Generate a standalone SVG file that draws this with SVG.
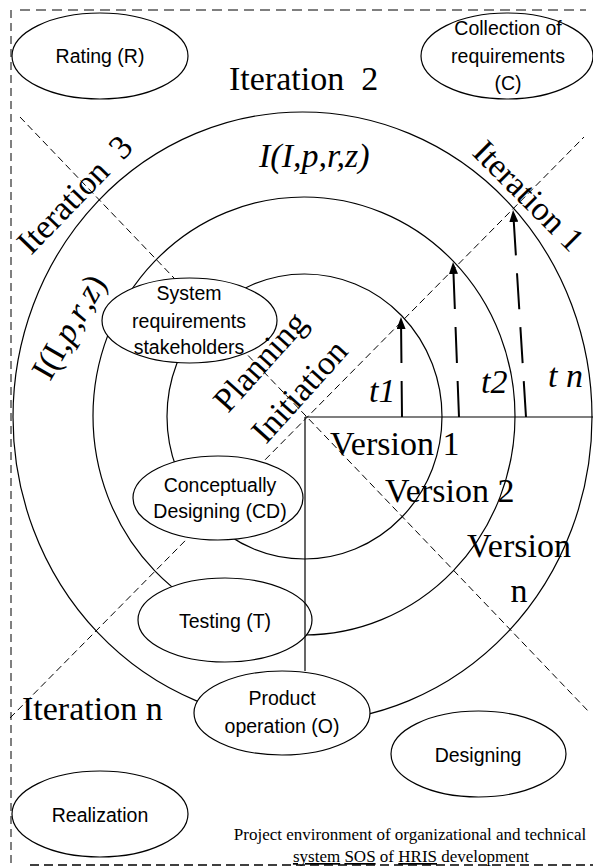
<svg xmlns="http://www.w3.org/2000/svg" width="593" height="868" viewBox="0 0 593 868">
<style>
.c{fill:none;stroke:#000;stroke-width:1.2}
.d{fill:none;stroke:#000;stroke-width:1;stroke-dasharray:7 4}
.ln{fill:none;stroke:#000;stroke-width:1.2}
.ar{fill:none;stroke:#000;stroke-width:2;stroke-dasharray:36 18;marker-end:url(#ah)}
.node ellipse{fill:#fff;stroke:#000;stroke-width:1.2}
.nt{font-family:"Liberation Sans",Arial,sans-serif;font-size:19.5px;text-anchor:middle;fill:#000}
.s{font-family:"Liberation Serif","Times New Roman",serif;font-size:34px;fill:#000}
.i{font-style:italic}
.cap{font-family:"Liberation Serif","Times New Roman",serif;font-size:17px;text-anchor:middle;fill:#000}
</style>
<defs>
<marker id="ah" markerWidth="12" markerHeight="9" refX="0" refY="4.5" orient="auto" markerUnits="userSpaceOnUse">
<path d="M0,0 L12,4.5 L0,9 z" fill="#000"/>
</marker>
</defs>

<!-- frame -->
<g id="frame">
<line x1="20" y1="10" x2="586" y2="10" stroke="#7f7f7f" stroke-width="2" stroke-dasharray="10 6"/>
<line x1="11" y1="10" x2="11" y2="868" stroke="#000" stroke-width="1" stroke-dasharray="8 5"/>
<line x1="30" y1="865" x2="593" y2="865" stroke="#000" stroke-width="1.5" stroke-dasharray="9 5"/>
</g>

<!-- circles -->
<g id="circles">
<ellipse class="c" cx="302.5" cy="417" rx="289.5" ry="305"/>
<ellipse class="c" cx="304" cy="416" rx="211" ry="219"/>
<ellipse class="c" cx="304.5" cy="416.5" rx="137.5" ry="142.5"/>
</g>

<!-- connectors -->
<g id="connectors">
<line class="d" x1="20" y1="117" x2="590" y2="713"/>
<line class="d" x1="10" y1="718" x2="584" y2="137"/>
<line class="ln" x1="305" y1="417" x2="593" y2="417"/>
<line class="ar" x1="402" y1="417" x2="401.1" y2="329"/>
<line class="ar" x1="459" y1="417" x2="453.5" y2="274"/>
<line class="ar" x1="526" y1="417" x2="513.8" y2="222"/>
</g>

<!-- nodes -->
<g id="rating" class="node">
<ellipse cx="100" cy="56" rx="88" ry="43"/>
<text class="nt" x="100" y="63">Rating (R)</text>
</g>
<g id="collection" class="node">
<ellipse cx="507" cy="56" rx="86" ry="43"/>
<text class="nt" x="508" y="35">Collection of</text>
<text class="nt" x="508" y="63">requirements</text>
<text class="nt" x="508" y="90">(C)</text>
</g>
<g id="system" class="node">
<ellipse cx="189.5" cy="320.5" rx="87.5" ry="42.5"/>
<text class="nt" x="189" y="300">System</text>
<text class="nt" x="189" y="328">requirements</text>
<text class="nt" x="189" y="354">stakeholders</text>
</g>
<g id="conceptually" class="node">
<ellipse cx="218" cy="498" rx="85" ry="42"/>
<text class="nt" x="220" y="492">Conceptually</text>
<text class="nt" x="220" y="518">Designing (CD)</text>
</g>
<g id="testing" class="node">
<ellipse cx="225" cy="620" rx="87" ry="42"/>
<text class="nt" x="225" y="628">Testing (T)</text>
</g>
<g id="product" class="node">
<ellipse cx="282" cy="713" rx="88" ry="42"/>
<text class="nt" x="282" y="705">Product</text>
<text class="nt" x="282" y="733">operation (O)</text>
</g>
<g id="designing" class="node">
<ellipse cx="478.5" cy="754" rx="87.5" ry="43"/>
<text class="nt" x="478" y="762">Designing</text>
</g>
<g id="realization" class="node">
<ellipse cx="100" cy="814" rx="88" ry="43"/>
<text class="nt" x="100" y="822">Realization</text>
</g>

<g id="vline">
<line class="ln" x1="305" y1="417" x2="305" y2="671"/>
</g>

<!-- labels -->
<g id="labels">
<text class="s" x="229" y="90" xml:space="preserve">Iteration  2</text>
<text class="s i" x="259" y="167" font-size="32">I(I,p,r,z)</text>
<text class="s" transform="translate(31,256) rotate(-46)" xml:space="preserve">Iteration  3</text>
<text class="s" transform="translate(471,154) rotate(45)">Iteration 1</text>
<text class="s" transform="translate(50,382) rotate(-60)" font-size="35">I(I,<tspan class="i">p</tspan>,<tspan class="i">r</tspan>,<tspan class="i">z</tspan>)</text>
<text class="s" transform="translate(228,414) rotate(-48)" font-size="36">Planning</text>
<text class="s" transform="translate(266,445) rotate(-48)" font-size="36">Initiation</text>
<text class="s" x="330" y="455">Version 1</text>
<text class="s" x="385" y="502">Version 2</text>
<text class="s" x="519" y="557" text-anchor="middle">Version</text>
<text class="s" x="519" y="602" text-anchor="middle">n</text>
<text class="s i" x="369" y="402" font-size="23">t1</text>
<text class="s i" x="481" y="393" font-size="23">t2</text>
<text class="s i" x="548" y="387" font-size="23">t n</text>
<text class="s" x="22" y="720">Iteration n</text>
<text class="cap" x="410" y="840">Project environment of organizational and technical</text>
<text class="cap" x="411" y="862"><tspan text-decoration="underline">system</tspan> <tspan text-decoration="underline">SOS</tspan> of <tspan text-decoration="underline">HRIS</tspan> development</text>
</g>
</svg>
